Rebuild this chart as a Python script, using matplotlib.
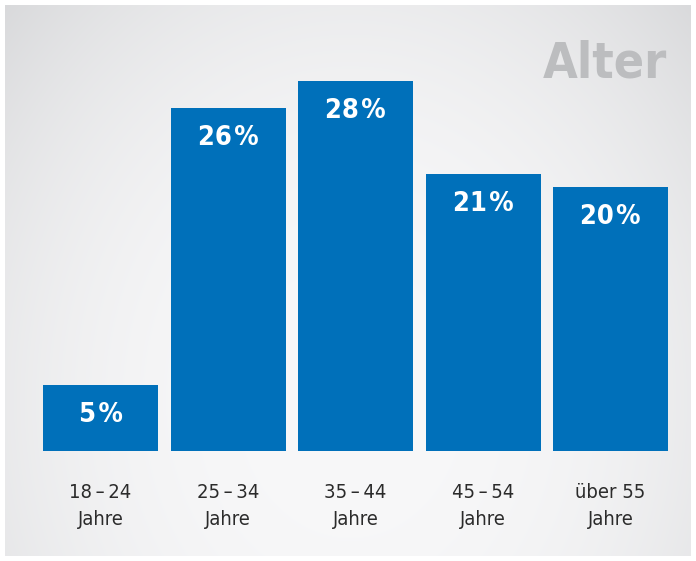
import numpy as np
import matplotlib
matplotlib.use("Agg")
import matplotlib.pyplot as plt

categories = ["18\u2009–\u200924\nJahre", "25\u2009–\u200934\nJahre", "35\u2009–\u200944\nJahre",
              "45\u2009–\u200954\nJahre", "über 55\nJahre"]
values = [5, 26, 28, 21, 20]
value_labels = ["5\u200a%", "26\u200a%", "28\u200a%", "21\u200a%", "20\u200a%"]
title = "Alter"

W, H = 696, 561
fig = plt.figure(figsize=(W / 100, H / 100), dpi=100)
fig.patch.set_facecolor("white")

# gradient background panel
bx0, by0, bx1, by1 = 5, 5, 691, 556
bg = fig.add_axes([bx0 / W, (H - by1) / H, (bx1 - bx0) / W, (by1 - by0) / H])
yy, xx = np.mgrid[by0:by1, bx0:bx1]
cx, cy = 350, 400
d = np.sqrt(((xx - cx) / 430.0) ** 2 + ((yy - cy) / 520.0) ** 2)
c_in = np.array([0.972, 0.972, 0.976])
shade = 0.095 * d ** 2.5
img = np.clip(c_in[None, None, :] - shade[..., None] * np.array([1.0, 0.98, 0.95])[None, None, :], 0, 1)
bg.imshow(img, aspect="auto", extent=[0, 1, 0, 1], interpolation="bilinear")
bg.axis("off")

# main axes spanning whole figure, data coords mapped to pixels
ax = fig.add_axes([0, 0, 1, 1])
ax.patch.set_alpha(0)
step = 127.5
x0 = 100.5
ppu = 13.2
base = 110
ax.set_xlim(-x0 / step, (W - x0) / step)
ax.set_ylim(-base / ppu, (H - base) / ppu)
ax.axis("off")

x = np.arange(len(values))
ax.bar(x, values, width=115 / step, color="#0070ba", zorder=2)

fam = ["DejaVu Sans"]
for xi, v, lab in zip(x, values, value_labels):
    ax.text(xi, v - 30 / ppu, lab, ha="center", va="center", color="white",
            fontsize=19.5, fontweight="bold", family=fam, fontstretch="condensed", zorder=3)

for xi, cat in zip(x, categories):
    ax.text(xi, -(506 - 451) / ppu, cat, ha="center", va="center", color="#2b2b2b",
            fontsize=14.5, family=fam, fontstretch="condensed", linespacing=1.55)

fig.text(667 / W, 1 - 64 / H, title, ha="right", va="center", color="#bcbdbf",
         fontsize=36, fontweight="bold", family=fam, fontstretch="condensed")

fig.savefig("out.png", dpi=100, facecolor="white")
